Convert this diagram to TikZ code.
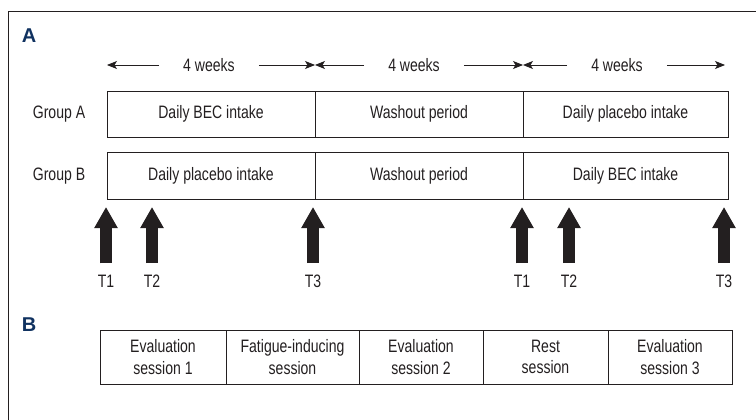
\documentclass[tikz,border=0pt]{standalone}
\usepackage{fontspec}
\setmainfont{Liberation Sans}[FakeStretch=0.78]
\newfontfamily\panelfont{Liberation Sans}
\usetikzlibrary{arrows.meta, positioning}
\definecolor{panelblue}{RGB}{16,50,96}
\definecolor{ink}{RGB}{35,31,32}
\tikzset{
x=1pt, y=-1pt, % one unit is one pixel of the figure, y runs downwards
phase/.style={draw=ink, line width=0.9pt, inner sep=0pt, outer sep=0pt, minimum height=46pt}, % the boxes of the timeline
session/.style={phase, minimum height=54pt, align=center}, % the boxes of panel B
panel/.style={text=panelblue, font=\panelfont\bfseries\fontsize{20}{24}\selectfont}, % the A and B letters
weeks/.style={inner xsep=24pt}, % keeps a gap round the 4 weeks text
span/.style={draw=ink, line width=0.8pt, -{Stealth[length=10pt, width=8pt, inset=2.5pt]}}, % thin arrows of the weeks
tarrow/.style={draw=ink, line width=12.7pt, -{Triangle[width=22pt, length=21pt]}, shorten <=8pt}, % fat arrows for T1..T3
}

\begin{document}
\begin{tikzpicture}[font=\fontsize{18}{21.5}\selectfont, text=ink]
  \useasboundingbox (0,0) rectangle (756,420);
  \draw[ink, line width=0.8pt] (8,420) -- (8,11) -- (756,11);

  % panel A
  \node[panel] (pa) at (29,36) {A};

  \coordinate (p0) at (107,65);
  \coordinate (p1) at (315,65);
  \coordinate (p2) at (523,65);
  \coordinate (p3) at (725,65);
  \node[weeks] (w1) at (209,65) {4 weeks};
  \node[weeks] (w2) at (414,65) {4 weeks};
  \node[weeks] (w3) at (617,65) {4 weeks};
  \draw[span] (w1) -- (p0);
  \draw[span] (w1) -- (p1);
  \draw[span] (w2) -- (p1);
  \draw[span] (w2) -- (p2);
  \draw[span] (w3) -- (p2);
  \draw[span] (w3) -- (p3);

  \node[phase, minimum width=208pt] (a1) at (211,114) {Daily BEC intake};
  \node[phase, minimum width=208pt, right=0pt of a1] (a2) {Washout period};
  \node[phase, minimum width=205pt, right=0pt of a2] (a3) {Daily placebo intake};
  \node (ga) at (59,114) {Group A};

  \node[phase, minimum width=208pt, minimum height=47pt] (b1) at (211,175.5) {Daily placebo intake};
  \node[phase, minimum width=208pt, minimum height=47pt, right=0pt of b1] (b2) {Washout period};
  \node[phase, minimum width=205pt, minimum height=47pt, right=0pt of b2] (b3) {Daily BEC intake};
  \node (gb) at (59,176) {Group B};

  \foreach \x/\t [count=\i] in {106/T1,152/T2,313/T3,522/T1,569/T2,724/T3} {
    \node (t\i) at (\x,281) {\t};
    \draw[tarrow] (t\i) -- (\x,207);
  }

  % panel B
  \node[panel] (pb) at (29,325) {B};

  \node[session, minimum width=126pt] (s1) at (163,357) {Evaluation\\session 1};
  \node[session, minimum width=133pt, right=0pt of s1] (s2) {Fatigue-inducing\\session};
  \node[session, minimum width=124pt, right=0pt of s2] (s3) {Evaluation\\session 2};
  \node[session, minimum width=125pt, right=0pt of s3] (s4) {Rest\\session};
  \node[session, minimum width=124pt, right=0pt of s4] (s5) {Evaluation\\session 3};
\end{tikzpicture}
\end{document}
